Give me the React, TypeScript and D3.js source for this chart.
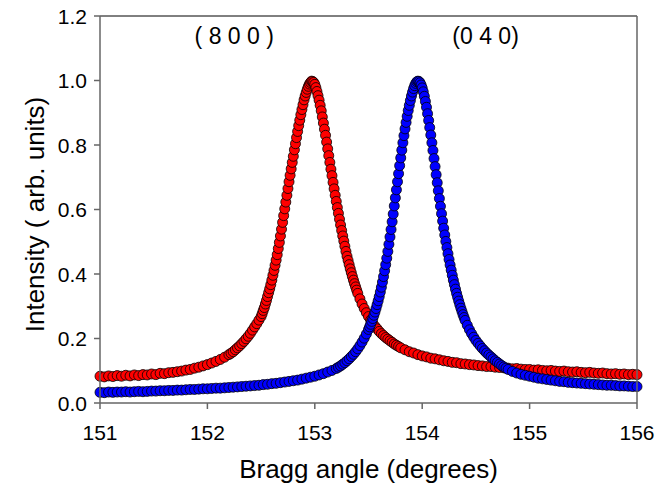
import * as d3 from "d3";

// (8 0 0) reflection, red
const red800: [number, number][] = [
  [151.00, 0.083], [151.04, 0.081], [151.08, 0.084], [151.12, 0.082], [151.16, 0.085], [151.20, 0.083],
  [151.24, 0.086], [151.28, 0.084], [151.32, 0.087], [151.36, 0.085], [151.40, 0.088], [151.44, 0.087],
  [151.48, 0.090], [151.52, 0.088], [151.56, 0.092], [151.60, 0.091], [151.64, 0.094], [151.68, 0.095],
  [151.72, 0.097], [151.76, 0.099], [151.80, 0.102], [151.84, 0.104], [151.88, 0.108], [151.92, 0.111],
  [151.96, 0.115], [152.00, 0.119], [152.04, 0.124], [152.08, 0.129], [152.12, 0.135], [152.16, 0.142],
  [152.20, 0.150], [152.22, 0.154], [152.24, 0.159], [152.26, 0.165], [152.28, 0.171], [152.30, 0.177],
  [152.32, 0.184], [152.34, 0.191], [152.36, 0.199], [152.38, 0.207], [152.40, 0.216], [152.42, 0.226],
  [152.44, 0.236], [152.46, 0.246], [152.48, 0.257],
  [152.50, 0.268], [152.51, 0.277], [152.52, 0.287], [152.53, 0.296], [152.54, 0.307], [152.55, 0.318],
  [152.56, 0.330], [152.57, 0.342], [152.58, 0.354], [152.59, 0.367], [152.60, 0.381], [152.61, 0.396],
  [152.62, 0.411], [152.63, 0.427], [152.64, 0.443], [152.65, 0.460], [152.66, 0.479], [152.67, 0.498],
  [152.68, 0.518], [152.69, 0.539], [152.70, 0.560], [152.71, 0.581], [152.72, 0.602], [152.73, 0.623],
  [152.74, 0.644], [152.75, 0.665], [152.76, 0.686], [152.77, 0.706], [152.78, 0.726], [152.79, 0.746],
  [152.80, 0.765], [152.81, 0.785], [152.82, 0.804], [152.83, 0.823], [152.84, 0.842], [152.85, 0.860],
  [152.86, 0.877], [152.87, 0.894], [152.88, 0.910], [152.89, 0.925], [152.90, 0.940], [152.91, 0.952],
  [152.92, 0.963], [152.93, 0.973], [152.94, 0.982], [152.95, 0.989], [152.96, 0.994], [152.97, 0.998],
  [152.98, 0.997], [152.99, 0.994], [153.00, 0.988], [153.01, 0.978], [153.02, 0.966], [153.03, 0.953],
  [153.04, 0.939], [153.05, 0.923], [153.06, 0.906], [153.07, 0.887], [153.08, 0.868], [153.09, 0.849],
  [153.10, 0.830], [153.11, 0.809], [153.12, 0.788], [153.13, 0.767], [153.14, 0.746], [153.15, 0.725],
  [153.16, 0.705], [153.17, 0.684], [153.18, 0.664], [153.19, 0.644], [153.20, 0.625], [153.21, 0.606],
  [153.22, 0.588], [153.23, 0.570], [153.24, 0.552], [153.25, 0.535], [153.26, 0.518], [153.27, 0.502],
  [153.28, 0.486], [153.29, 0.470], [153.30, 0.455], [153.31, 0.442], [153.32, 0.429], [153.33, 0.416],
  [153.34, 0.404], [153.35, 0.392], [153.36, 0.381], [153.37, 0.370], [153.38, 0.360], [153.39, 0.350],
  [153.40, 0.340],
  [153.42, 0.323], [153.44, 0.307], [153.46, 0.293], [153.48, 0.280], [153.50, 0.268], [153.52, 0.257],
  [153.54, 0.247], [153.56, 0.238], [153.58, 0.230], [153.60, 0.222], [153.62, 0.215], [153.64, 0.209],
  [153.66, 0.203], [153.68, 0.198], [153.70, 0.193], [153.72, 0.188], [153.74, 0.183], [153.76, 0.179],
  [153.78, 0.175], [153.80, 0.171],
  [153.84, 0.165], [153.88, 0.159], [153.92, 0.155], [153.96, 0.150], [154.00, 0.146], [154.04, 0.143],
  [154.08, 0.139], [154.12, 0.137], [154.16, 0.134], [154.20, 0.131], [154.24, 0.129], [154.28, 0.126],
  [154.32, 0.125], [154.36, 0.122], [154.40, 0.121], [154.44, 0.119], [154.48, 0.118], [154.52, 0.116],
  [154.56, 0.115], [154.60, 0.113], [154.64, 0.113], [154.68, 0.111], [154.72, 0.110], [154.76, 0.109],
  [154.80, 0.108], [154.84, 0.106], [154.88, 0.107], [154.92, 0.105], [154.96, 0.104], [155.00, 0.104],
  [155.04, 0.102], [155.08, 0.103], [155.12, 0.101], [155.16, 0.100], [155.20, 0.101], [155.24, 0.099],
  [155.28, 0.098], [155.32, 0.099], [155.36, 0.097], [155.40, 0.096], [155.44, 0.097], [155.48, 0.095],
  [155.52, 0.094], [155.56, 0.095], [155.60, 0.093], [155.64, 0.092], [155.68, 0.093], [155.72, 0.091],
  [155.76, 0.090], [155.80, 0.091], [155.84, 0.089], [155.88, 0.090], [155.92, 0.088], [155.96, 0.089],
  [156.00, 0.088],
];

// (0 4 0) reflection, blue
const blue040: [number, number][] = [
  [151.00, 0.033], [151.04, 0.032], [151.08, 0.034], [151.12, 0.033], [151.16, 0.034], [151.20, 0.034],
  [151.24, 0.035], [151.28, 0.034], [151.32, 0.035], [151.36, 0.036], [151.40, 0.035], [151.44, 0.036],
  [151.48, 0.037], [151.52, 0.037], [151.56, 0.038], [151.60, 0.038], [151.64, 0.039], [151.68, 0.039],
  [151.72, 0.040], [151.76, 0.040], [151.80, 0.041], [151.84, 0.042], [151.88, 0.042], [151.92, 0.043],
  [151.96, 0.044], [152.00, 0.044], [152.04, 0.045], [152.08, 0.046], [152.12, 0.046], [152.16, 0.047],
  [152.20, 0.048], [152.24, 0.049], [152.28, 0.050], [152.32, 0.051], [152.36, 0.052], [152.40, 0.053],
  [152.44, 0.054], [152.48, 0.055], [152.52, 0.057], [152.56, 0.058], [152.60, 0.060], [152.64, 0.061],
  [152.68, 0.063], [152.72, 0.065], [152.76, 0.067], [152.80, 0.069], [152.84, 0.071], [152.88, 0.074],
  [152.92, 0.077], [152.96, 0.080], [153.00, 0.083], [153.04, 0.087], [153.08, 0.091], [153.12, 0.096],
  [153.16, 0.101],
  [153.20, 0.107], [153.22, 0.111], [153.24, 0.115], [153.26, 0.120], [153.28, 0.125], [153.30, 0.131],
  [153.32, 0.137], [153.34, 0.144], [153.36, 0.151], [153.38, 0.159], [153.40, 0.168], [153.42, 0.178],
  [153.44, 0.189], [153.46, 0.201], [153.48, 0.214],
  [153.50, 0.228], [153.51, 0.236], [153.52, 0.244], [153.53, 0.253], [153.54, 0.262], [153.55, 0.272],
  [153.56, 0.282], [153.57, 0.293], [153.58, 0.305], [153.59, 0.317], [153.60, 0.330], [153.61, 0.344],
  [153.62, 0.359], [153.63, 0.375], [153.64, 0.392], [153.65, 0.410], [153.66, 0.429], [153.67, 0.449],
  [153.68, 0.470], [153.69, 0.492], [153.70, 0.515], [153.71, 0.538], [153.72, 0.562], [153.73, 0.586],
  [153.74, 0.611], [153.75, 0.636], [153.76, 0.661], [153.77, 0.686], [153.78, 0.711], [153.79, 0.736],
  [153.80, 0.760], [153.81, 0.784], [153.82, 0.807], [153.83, 0.829], [153.84, 0.850], [153.85, 0.870],
  [153.86, 0.889], [153.87, 0.907], [153.88, 0.923], [153.89, 0.938], [153.90, 0.952], [153.91, 0.964],
  [153.92, 0.975], [153.93, 0.984], [153.94, 0.991], [153.95, 0.996], [153.96, 0.998], [153.97, 0.997],
  [153.98, 0.993], [153.99, 0.986], [154.00, 0.977], [154.01, 0.965], [154.02, 0.951], [154.03, 0.935],
  [154.04, 0.917], [154.05, 0.897], [154.06, 0.876], [154.07, 0.854], [154.08, 0.831], [154.09, 0.807],
  [154.10, 0.783], [154.11, 0.758], [154.12, 0.733], [154.13, 0.708], [154.14, 0.683], [154.15, 0.658],
  [154.16, 0.634], [154.17, 0.610], [154.18, 0.587], [154.19, 0.564], [154.20, 0.542], [154.21, 0.521],
  [154.22, 0.501], [154.23, 0.482], [154.24, 0.463], [154.25, 0.445], [154.26, 0.428], [154.27, 0.412],
  [154.28, 0.396], [154.29, 0.381], [154.30, 0.367], [154.31, 0.353], [154.32, 0.340], [154.33, 0.328],
  [154.34, 0.316], [154.35, 0.305], [154.36, 0.294], [154.37, 0.284], [154.38, 0.274], [154.39, 0.265],
  [154.40, 0.256],
  [154.42, 0.241], [154.44, 0.227], [154.46, 0.215], [154.48, 0.204], [154.50, 0.194], [154.52, 0.185],
  [154.54, 0.177], [154.56, 0.169], [154.58, 0.162], [154.60, 0.155], [154.62, 0.149], [154.64, 0.143],
  [154.66, 0.137], [154.68, 0.131], [154.70, 0.126], [154.72, 0.121], [154.74, 0.116], [154.76, 0.112],
  [154.78, 0.108], [154.80, 0.104],
  [154.84, 0.098], [154.88, 0.093], [154.92, 0.089], [154.96, 0.086], [155.00, 0.083], [155.04, 0.080],
  [155.08, 0.077], [155.12, 0.075], [155.16, 0.073], [155.20, 0.071], [155.24, 0.069], [155.28, 0.067],
  [155.32, 0.066], [155.36, 0.064], [155.40, 0.063], [155.44, 0.062], [155.48, 0.061], [155.52, 0.060],
  [155.56, 0.059], [155.60, 0.058], [155.64, 0.057], [155.68, 0.056], [155.72, 0.055], [155.76, 0.055],
  [155.80, 0.054], [155.84, 0.053], [155.88, 0.053], [155.92, 0.052], [155.96, 0.051], [156.00, 0.051],
];

const xTicks = [151, 152, 153, 154, 155, 156];
const yTicks = [0, 0.2, 0.4, 0.6, 0.8, 1.0, 1.2];
const peakLabels = [
  { text: "( 8 0 0 )", x: 152.25, y: 1.113 },
  { text: "(0 4 0)", x: 154.59, y: 1.113 },
];

const W = 668;
const H = 487;
const font = "'Liberation Sans', Arial, Helvetica, sans-serif";

export default function App() {
  const x = d3.scaleLinear().domain([151, 156]).range([100, 637]);
  const y = d3.scaleLinear().domain([0, 1.2]).range([403, 16]);
  const axisCol = "#666";
  const tick = 6;

  const dot = (d: [number, number], i: number, fill: string) => (
    <circle key={i} cx={x(d[0])} cy={y(d[1])} r={5} fill={fill} stroke="#000" strokeWidth={0.8} />
  );

  return (
    <svg width={W} height={H} style={{ position: "absolute", left: 0, top: 0, background: "#fff" }}>
      <g>{red800.map((d, i) => dot(d, i, "#ff0000"))}</g>
      <g>{blue040.map((d, i) => dot(d, i, "#0000ff"))}</g>

      {/* frame */}
      <line x1={x(151)} x2={x(156)} y1={y(1.2)} y2={y(1.2)} stroke="#000" strokeWidth={1} />
      <line x1={x(156)} x2={x(156)} y1={y(1.2)} y2={y(0)} stroke={axisCol} strokeWidth={1.5} />
      <line x1={x(151)} x2={x(151)} y1={y(1.2)} y2={y(0)} stroke={axisCol} strokeWidth={1.5} />
      <line x1={x(151)} x2={x(156)} y1={y(0)} y2={y(0)} stroke={axisCol} strokeWidth={1.5} />

      {xTicks.map((t) => (
        <g key={t}>
          <line x1={x(t)} x2={x(t)} y1={y(0)} y2={y(0) + tick} stroke={axisCol} strokeWidth={1.5} />
          <text x={x(t)} y={y(0) + 37} textAnchor="middle" fontFamily={font} fontSize={21}>{t}</text>
        </g>
      ))}
      {yTicks.map((t) => (
        <g key={t}>
          <line x1={x(151) - tick} x2={x(151)} y1={y(t)} y2={y(t)} stroke={axisCol} strokeWidth={1.5} />
          <text x={x(151) - 13} y={y(t)} dy="0.36em" textAnchor="end" fontFamily={font} fontSize={21}>
            {d3.format(".1f")(t)}
          </text>
        </g>
      ))}

      {peakLabels.map((p) => (
        <text key={p.text} x={x(p.x)} y={y(p.y)} textAnchor="middle" fontFamily={font} fontSize={23}>
          {p.text}
        </text>
      ))}

      <text x={(x(151) + x(156)) / 2} y={478} textAnchor="middle" fontFamily={font} fontSize={26}>
        Bragg angle (degrees)
      </text>
      <text
        transform={`translate(44,${(y(0) + y(1.2)) / 2 + 5}) rotate(-90)`}
        textAnchor="middle"
        fontFamily={font}
        fontSize={26}
      >
        Intensity ( arb. units)
      </text>
    </svg>
  );
}
